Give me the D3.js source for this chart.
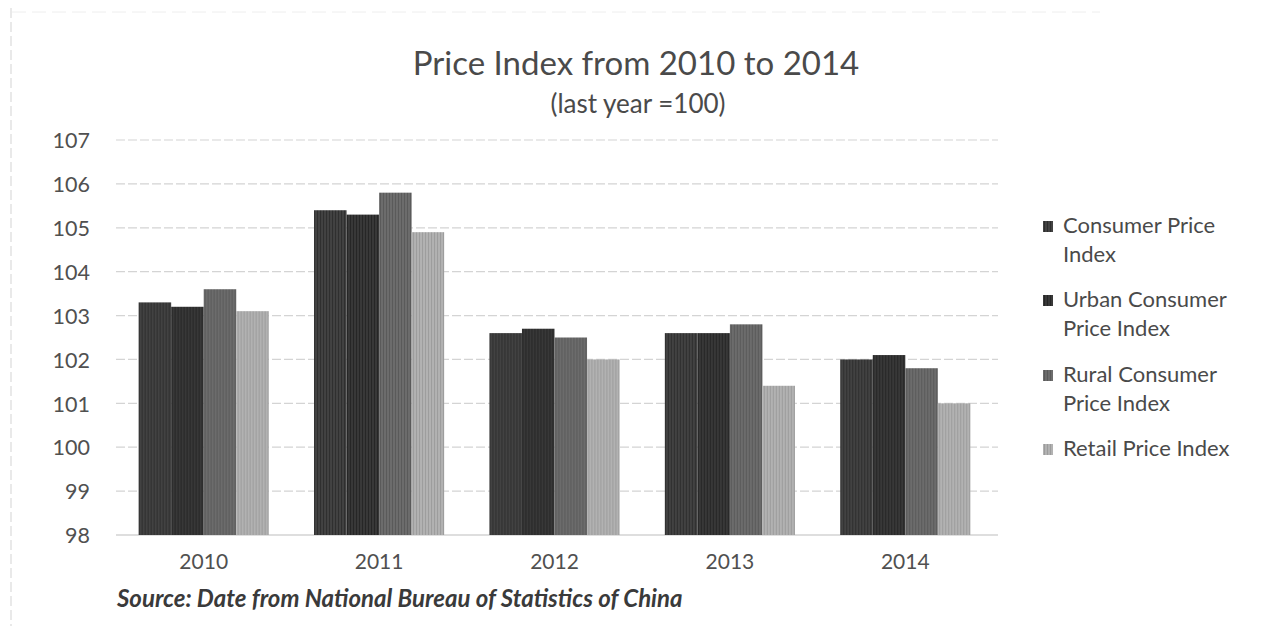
<!DOCTYPE html>
<html>
<head>
<meta charset="utf-8">
<script src="https://cdn.jsdelivr.net/npm/d3@7"></script>
<style>
  html, body { margin: 0; padding: 0; background: #fff; }
  svg { display: block; }
  text { font-family: Lato, "Open Sans", sans-serif; }
</style>
</head>
<body>
<svg id="chart" width="1274" height="626"></svg>
<script>
// Price indices (previous year = 100)
const years = ["2010", "2011", "2012", "2013", "2014"];
const seriesNames = [
  ["Consumer Price", "Index"],
  ["Urban Consumer", "Price Index"],
  ["Rural Consumer", "Price Index"],
  ["Retail Price Index"]
];
const cpi      = [103.3, 105.4, 102.6, 102.6, 102.0];
const urbanCpi = [103.2, 105.3, 102.7, 102.6, 102.1];
const ruralCpi = [103.6, 105.8, 102.5, 102.8, 101.8];
const retailPi = [103.1, 104.9, 102.0, 101.4, 101.0];
const yTicks = [98, 99, 100, 101, 102, 103, 104, 105, 106, 107];

const series = [cpi, urbanCpi, ruralCpi, retailPi];
const fills = ["#424242", "#383838", "#6c6c6c", "#b2b2b2"];
const stripes = ["#2e2e2e", "#262626", "#5a5a5a", "#9c9c9c"];

const svg = d3.select("#chart");
const margin = { left: 116, right: 281, top: 140, bottom: 91 };
const W = 1274, H = 626;

// faint page edges
svg.append("line").attr("x1", 11).attr("x2", 11).attr("y1", 8).attr("y2", 626)
  .attr("stroke", "#e2e2e2").attr("stroke-width", 1.5).attr("stroke-dasharray", "10,4");
svg.append("line").attr("x1", 12).attr("x2", 1100).attr("y1", 12).attr("y2", 12)
  .attr("stroke", "#eeeeee").attr("stroke-width", 1).attr("stroke-dasharray", "14,6");

// textured fills
const defs = svg.append("defs");
fills.forEach((c, i) => {
  const p = defs.append("pattern").attr("id", "pat" + i)
    .attr("patternUnits", "userSpaceOnUse").attr("width", 3).attr("height", 3);
  p.append("rect").attr("width", 3).attr("height", 3).attr("fill", c);
  p.append("rect").attr("x", 0).attr("width", 1).attr("height", 3).attr("fill", stripes[i]);
});

const x0 = d3.scaleBand().domain(years)
  .range([margin.left, W - margin.right]).paddingInner(0.258).paddingOuter(0.129);
const x1 = d3.scaleBand().domain(d3.range(series.length))
  .range([0, x0.bandwidth()]);
const y = d3.scaleLinear().domain([98, 107]).range([H - margin.bottom, margin.top]);

// gridlines
const gridX2 = 998;
svg.append("g").selectAll("line").data(yTicks).join("line")
  .attr("x1", margin.left).attr("x2", gridX2)
  .attr("y1", d => y(d)).attr("y2", d => y(d))
  .attr("stroke", d => d === 98 ? "#bdbdbd" : "#d4d4d4")
  .attr("stroke-width", 1.2)
  .attr("stroke-dasharray", d => d === 98 ? null : "9,3");

// y tick labels
const yAxis = d3.axisLeft(y).tickValues(yTicks).tickSize(0).tickPadding(0);
const gy = svg.append("g").attr("transform", "translate(90,0)").call(yAxis);
gy.select(".domain").remove();
gy.selectAll("text").attr("font-size", 21.5).attr("fill", "#505050")
  .attr("font-family", "Lato, sans-serif").attr("dy", "0.36em");

// bars
const groups = svg.append("g").selectAll("g").data(years).join("g")
  .attr("transform", d => `translate(${x0(d)},0)`);
groups.selectAll("rect")
  .data((d, i) => series.map((s, k) => ({ k, v: s[i] })))
  .join("rect")
  .attr("x", d => x1(d.k))
  .attr("width", x1.bandwidth())
  .attr("y", d => y(d.v))
  .attr("height", d => y(98) - y(d.v))
  .attr("fill", d => `url(#pat${d.k})`);

// x axis labels
const xAxis = d3.axisBottom(x0).tickSize(0).tickPadding(0);
const gx = svg.append("g").attr("transform", `translate(0,${H - margin.bottom})`).call(xAxis);
gx.select(".domain").remove();
gx.selectAll("text").attr("font-size", 21).attr("fill", "#505050")
  .attr("font-family", "Lato, sans-serif").attr("dy", "1.6em");

// title
svg.append("text").attr("x", 636).attr("y", 75).attr("text-anchor", "middle")
  .attr("font-size", 33).attr("fill", "#4a4a4a").text("Price Index from 2010 to 2014");
svg.append("text").attr("x", 638).attr("y", 113).attr("text-anchor", "middle")
  .attr("font-size", 26).attr("fill", "#4a4a4a").text("(last year =100)");

// legend
const legendTops = [233, 307, 382, 456];
const lg = svg.append("g");
seriesNames.forEach((lines, i) => {
  lg.append("rect").attr("x", 1043).attr("y", legendTops[i] - 12)
    .attr("width", 10).attr("height", 11).attr("fill", `url(#pat${i})`);
  lines.forEach((t, j) => {
    lg.append("text").attr("x", 1063).attr("y", legendTops[i] + j * 29)
      .attr("font-size", 22).attr("fill", "#4a4a4a").text(t);
  });
});

// source note
svg.append("text").attr("x", 117).attr("y", 607)
  .attr("font-size", 24).attr("font-weight", "bold").attr("font-style", "italic")
  .attr("fill", "#3a3a3a").text("Source: Date from National Bureau of Statistics of China");
</script>
</body>
</html>
